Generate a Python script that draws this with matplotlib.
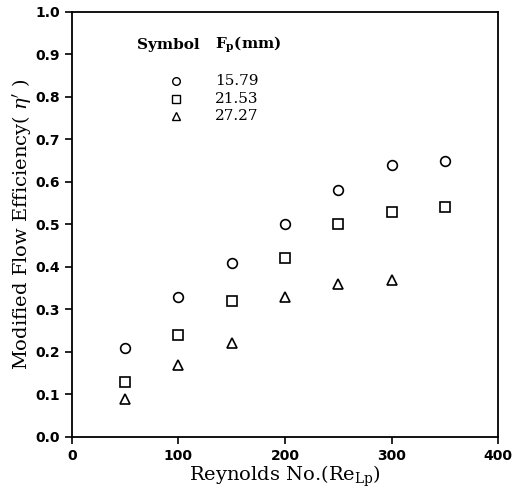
import matplotlib
matplotlib.use('Agg')
import matplotlib.pyplot as plt

# data
reynolds = [50, 100, 150, 200, 250, 300, 350]
eff_1579 = [0.21, 0.33, 0.41, 0.50, 0.58, 0.64, 0.65]
eff_2153 = [0.13, 0.24, 0.32, 0.42, 0.50, 0.53, 0.54]
reynolds_tri = [50, 100, 150, 200, 250, 300]
eff_2727 = [0.09, 0.17, 0.22, 0.33, 0.36, 0.37]

fp_labels = ['15.79', '21.53', '27.27']
markers = ['o', 's', '^']

plt.rcParams['mathtext.fontset'] = 'dejavuserif'

fig = plt.figure(figsize=(5.13, 4.91), dpi=100)
ax = fig.add_axes([0.140, 0.110, 0.831, 0.866])

series = [(reynolds, eff_1579), (reynolds, eff_2153), (reynolds_tri, eff_2727)]
for (xs, ys), m in zip(series, markers):
    ax.plot(xs, ys, linestyle='none', marker=m, markersize=7 if m == 'o' else 6.5,
            markerfacecolor='white', markeredgecolor='black', markeredgewidth=1.2)

# legend drawn as a small table of text
ax.text(61, 0.922, 'Symbol', fontsize=11, family='DejaVu Serif', weight='bold',
        va='center', ha='left')
ax.text(134, 0.922, r'F$_{\mathbf{p}}$(mm)', fontsize=11, family='DejaVu Serif',
        weight='bold', va='center', ha='left')
leg_y = [0.838, 0.795, 0.755]
for m, lab, yy in zip(markers, fp_labels, leg_y):
    ax.plot([98], [yy], linestyle='none', marker=m, markersize=5.5,
            markerfacecolor='white', markeredgecolor='black', markeredgewidth=1.0)
    ax.text(134, yy, lab, fontsize=11, family='DejaVu Serif', va='center', ha='left')

ax.set_xlim(0, 400)
ax.set_ylim(0, 1.0)
ax.set_xticks([0, 100, 200, 300, 400])
ax.set_yticks([i / 10 for i in range(11)])
ax.set_yticklabels(['%.1f' % (i / 10) for i in range(11)])
ax.tick_params(direction='out', length=5, width=1.2, labelsize=10)
for lbl in ax.get_xticklabels() + ax.get_yticklabels():
    lbl.set_fontweight('bold')

ax.set_xlabel(r'Reynolds No.(Re$_{\mathrm{Lp}}$)', fontsize=14, family='DejaVu Serif', labelpad=1)
ax.set_ylabel(r"Modified Flow Efficiency( $\eta^{\prime}$ )", fontsize=14, family='DejaVu Serif', labelpad=2)

for s in ax.spines.values():
    s.set_linewidth(1.3)

fig.savefig('out.png', dpi=100)
